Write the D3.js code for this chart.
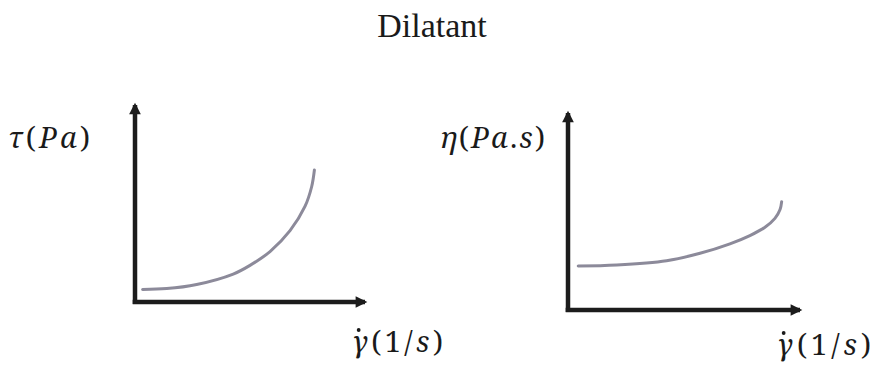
<!DOCTYPE html>
<html>
<head>
<meta charset="utf-8">
<script src="https://cdn.jsdelivr.net/npm/d3@7"></script>
<style>
  html, body { margin: 0; padding: 0; background: #fff; }
  svg { display: block; }
</style>
</head>
<body>
<svg id="chart" width="875" height="365"></svg>
<script>
// Shear stress vs. shear rate (arbitrary units, 0-100 on each axis)
const stressRate   = [3.3, 13.8, 26.8, 42.7, 50.0, 58.7, 67.4, 73.9, 76.8, 78.0];
const stressValues = [6.4, 6.8, 8.9, 14.2, 18.6, 25.6, 36.2, 48.5, 58.5, 67.0];

// Viscosity vs. shear rate (arbitrary units, 0-100 on each axis)
const viscRate   = [4.4, 21.0, 42.5, 56.9, 69.8, 78.4, 84.9, 89.2, 91.4, 92.1];
const viscValues = [22.3, 22.8, 25.0, 28.8, 33.6, 37.8, 42.0, 46.5, 51.0, 55.0];

const titleText = "Dilatant";

const svg = d3.select("#chart");
const axisColor = "#1c1c1c";
const curveColor = "#8c8a9a";
const mathFont = "Noto Serif, DejaVu Serif, serif";

// Arrowhead for the axes
const defs = svg.append("defs");
defs.append("marker")
  .attr("id", "arrow")
  .attr("viewBox", "0 0 10 10")
  .attr("refX", 8).attr("refY", 5)
  .attr("markerWidth", 3.0).attr("markerHeight", 2.6)
  .attr("markerUnits", "strokeWidth")
  .attr("orient", "auto")
  .append("path")
  .attr("d", "M0,0 L10,5 L0,10 Z")
  .attr("fill", axisColor);

svg.append("text")
  .attr("x", 432).attr("y", 37)
  .attr("text-anchor", "middle")
  .attr("font-family", "Liberation Serif, Times New Roman, serif")
  .attr("font-size", 34)
  .attr("fill", "#1a1a1a")
  .text(titleText);

// Writes a math-style label with italic symbols and upright punctuation
function mathLabel(g, x, y, width, parts, dotFirst) {
  const t = g.append("text")
    .attr("x", x).attr("y", y)
    .attr("font-family", mathFont)
    .attr("font-size", 29)
    .attr("textLength", width)
    .attr("lengthAdjust", "spacing")
    .attr("fill", "#1a1a1a");
  parts.forEach(([s, italic]) => {
    t.append("tspan")
      .attr("font-style", italic ? "italic" : "normal")
      .text(s);
  });
  if (dotFirst) {
    // overdot on the leading symbol (shear-rate notation)
    const box = t.node().getExtentOfChar(0);
    g.append("circle")
      .attr("cx", box.x + box.width * 0.42)
      .attr("cy", y - 22)
      .attr("r", 1.9)
      .attr("fill", "#1a1a1a");
  }
  return t;
}

function panel(cfg) {
  const x = d3.scaleLinear().domain([0, 100]).range([cfg.x0, cfg.x1]);
  const y = d3.scaleLinear().domain([0, 100]).range([cfg.y0, cfg.y1]);
  const g = svg.append("g");

  const axisLine = d3.line().x(d => x(d[0])).y(d => y(d[1]));
  // horizontal axis
  g.append("path")
    .attr("d", axisLine([[-1, 0], [100, 0]]))
    .attr("stroke", axisColor).attr("stroke-width", 4.5)
    .attr("fill", "none")
    .attr("marker-end", "url(#arrow)");
  // vertical axis
  g.append("path")
    .attr("d", axisLine([[0, -1], [0, 100]]))
    .attr("stroke", axisColor).attr("stroke-width", 4.5)
    .attr("fill", "none")
    .attr("marker-end", "url(#arrow)");

  const pts = cfg.xs.map((v, i) => [v, cfg.ys[i]]);
  g.append("path")
    .attr("d", d3.line().x(d => x(d[0])).y(d => y(d[1])).curve(d3.curveCatmullRom.alpha(0.5))(pts))
    .attr("stroke", curveColor).attr("stroke-width", 3)
    .attr("stroke-linecap", "round")
    .attr("fill", "none");

  mathLabel(g, cfg.yl[0], cfg.yl[1], cfg.yl[2], cfg.yLabel, false);
  mathLabel(g, cfg.xl[0], cfg.xl[1], cfg.xl[2],
    [["\u03B3", true], ["(1/", false], ["s", true], [")", false]], true);
}

panel({
  x0: 135, x1: 365, y0: 302, y1: 105,
  xs: stressRate, ys: stressValues,
  yLabel: [["\u03C4", true], ["(", false], ["Pa", true], [")", false]],
  yl: [8, 148, 82], xl: [352, 352, 91]
});

panel({
  x0: 568, x1: 800, y0: 310, y1: 113,
  xs: viscRate, ys: viscValues,
  yLabel: [["\u03B7", true], ["(", false], ["Pa", true], [".", false], ["s", true], [")", false]],
  yl: [440, 148, 105], xl: [777, 355, 94]
});
</script>
</body>
</html>
